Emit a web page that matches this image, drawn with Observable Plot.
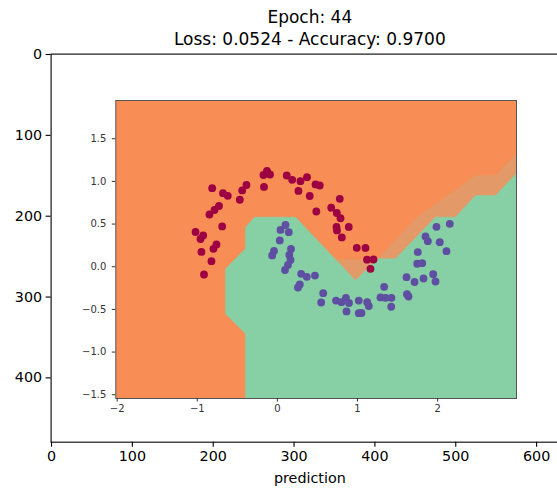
<!DOCTYPE html>
<html><head><meta charset="utf-8">
<script src="https://cdn.jsdelivr.net/npm/d3@7"></script>
<script src="https://cdn.jsdelivr.net/npm/@observablehq/plot@0.6"></script>
<style>
html,body{margin:0;padding:0;overflow:hidden;background:#fff;}
#wrap{position:relative;width:557px;height:488px;overflow:hidden;}
#wrap svg{position:absolute;left:0;top:0;}
</style></head><body><div id="wrap"></div>
<script>
// ---- text ----
const titleLines = ["Epoch: 44", "Loss: 0.0524 - Accuracy: 0.9700"];
const xLabel = "prediction";
// ---- outer (image) axes ----
const imageWidth = 640, imageHeight = 480;
const outerXTicks = [0, 100, 200, 300, 400, 500, 600];
const outerYTicks = [0, 100, 200, 300, 400];
// ---- inner (decision boundary) axes ----
const innerXDomain = [-2.017, 2.985];
const innerYDomain = [-1.544, 1.948];
const innerXTicks = [-2, -1, 0, 1, 2];
const innerYTicks = [-1.5, -1.0, -0.5, 0.0, 0.5, 1.0, 1.5];
// class 0 (red) points
const redX = [-1.022,-0.926,-0.960,-0.948,-0.760,-0.798,-0.823,-0.916,-0.689,-0.848,-0.785,-0.729,-0.814,-0.679,-0.619,-0.469,-0.439,-0.386,-0.167,-0.174,-0.130,-0.092,0.117,0.185,0.288,0.370,0.263,0.476,0.529,0.404,0.486,0.779,0.672,0.742,0.788,0.738,0.744,0.891,0.804,0.991,1.100,1.119,1.200,1.162];
const redY = [0.407,0.366,0.325,0.173,0.261,0.210,0.065,-0.091,0.472,0.612,0.665,0.712,0.921,0.862,0.831,0.785,0.894,0.958,0.935,1.075,1.122,1.081,1.069,1.019,1.003,1.049,0.888,0.964,0.952,0.829,0.647,0.796,0.691,0.630,0.568,0.466,0.425,0.466,0.343,0.222,0.220,0.083,0.085,-0.024];
// class 1 (purple) points
const purpleX = [0.039,0.101,0.142,0.030,0.170,-0.042,-0.065,0.149,0.164,0.132,0.095,0.297,0.367,0.469,0.280,0.257,0.572,0.547,0.732,0.800,0.856,0.894,0.863,1.016,1.016,1.050,1.121,1.141,1.333,1.287,1.350,1.424,1.421,1.612,1.712,1.824,1.945,1.974,1.618,1.637,1.753,1.745,1.808,1.849,1.878,1.986,2.152,2.027,2.111];
const purpleY = [0.431,0.489,0.405,0.308,0.208,0.185,0.132,0.138,0.079,0.021,-0.038,-0.083,-0.118,-0.103,-0.208,-0.243,-0.310,-0.419,-0.396,-0.415,-0.364,-0.425,-0.524,-0.396,-0.544,-0.542,-0.415,-0.460,-0.235,-0.360,-0.364,-0.364,-0.469,-0.122,-0.179,-0.138,-0.087,-0.173,-0.322,-0.349,0.171,0.035,0.042,0.355,0.299,0.468,0.503,0.288,0.182];
// predicted class-1 region (green) outline
const greenX = [-0.398,-0.398,-0.648,-0.648,-0.398,-0.398,-0.286,0.226,0.975,1.243,1.474,1.974,2.223,2.473,2.723,2.985,2.985];
const greenY = [-1.544,-0.786,-0.551,-0.026,0.214,0.463,0.581,0.581,-0.161,0.093,0.093,0.581,0.581,0.835,0.835,1.093,-1.544];
// intermediate contour band outline
const bandX = [0.747,1.246,1.724,2.473,2.723,2.985,2.985,0.975];
const bandY = [0.085,0.085,0.565,1.069,1.069,1.327,-0.396,-0.396];

const colors = {orange: "#f88e55", band: "#e39a68", green: "#87cfa4", red: "#9e0142", purple: "#5e4fa2"};

const red = redX.map((x, i) => ({x, y: redY[i]}));
const purple = purpleX.map((x, i) => ({x, y: purpleY[i]}));
const greenPoly = greenX.map((x, i) => ({x, y: greenY[i]}));
const bandPoly = bandX.map((x, i) => ({x, y: bandY[i]}));

const font = "DejaVu Sans, sans-serif";
const k = 0.8085; // px per image pixel
const oLeft = 50.6, oTop = 53.6;
const oWidth = 572;
const oRight = oLeft + imageWidth * k;
const oBottom = oTop + imageHeight * k;

const outer = Plot.plot({
  width: oWidth, height: 488,
  marginLeft: oLeft, marginTop: oTop,
  marginRight: oWidth - oRight, marginBottom: 488 - oBottom,
  style: {fontFamily: font, color: "black", background: "transparent", maxWidth: "none", overflow: "visible"},
  x: {domain: [-0.5, imageWidth - 0.5]},
  y: {domain: [-0.5, imageHeight - 0.5], reverse: true},
  marks: [
    Plot.frame({stroke: "black", strokeWidth: 1.1}),
    Plot.axisX(outerXTicks, {tickSize: 5, tickPadding: 4, fontSize: 14.3, label: null, strokeWidth: 1.1}),
    Plot.axisY(outerYTicks, {tickSize: 5, tickPadding: 4, fontSize: 14.3, label: null, strokeWidth: 1.1}),
    Plot.text([titleLines.join("\n")], {frameAnchor: "top", dy: -9, lineAnchor: "bottom", lineHeight: 1.32, fontSize: 17, fill: "black"}),
    Plot.text([xLabel], {frameAnchor: "bottom", dy: 41, lineAnchor: "bottom", fontSize: 14.3, fill: "black"})
  ]
});

const inner = Plot.plot({
  width: 557, height: 488,
  marginLeft: 115.3, marginRight: 41, marginTop: 100, marginBottom: 90,
  style: {fontFamily: font, color: "#333", background: "transparent", maxWidth: "none"},
  x: {domain: innerXDomain},
  y: {domain: innerYDomain},
  marks: [
    Plot.frame({fill: colors.orange}),
    Plot.line(bandPoly, {x: "x", y: "y", fill: colors.band, stroke: colors.band, strokeWidth: 0.5, curve: "linear-closed", clip: true}),
    Plot.line(greenPoly, {x: "x", y: "y", fill: colors.green, stroke: colors.green, strokeWidth: 0.5, curve: "linear-closed", clip: true}),
    Plot.dot(red, {x: "x", y: "y", r: 3.9, fill: colors.red, stroke: "none"}),
    Plot.dot(purple, {x: "x", y: "y", r: 3.9, fill: colors.purple, stroke: "none"}),
    Plot.frame({stroke: "#555", strokeWidth: 1}),
    Plot.axisX(innerXTicks, {tickSize: 3.5, tickPadding: 3, fontSize: 10, label: null, color: "#333"}),
    Plot.axisY(innerYTicks, {tickSize: 3.5, tickPadding: 6, fontSize: 10, label: null, color: "#333", tickFormat: d3.format(".1f")})
  ]
});

const wrap = document.getElementById("wrap");
wrap.appendChild(outer);
wrap.appendChild(inner);
</script></body></html>
